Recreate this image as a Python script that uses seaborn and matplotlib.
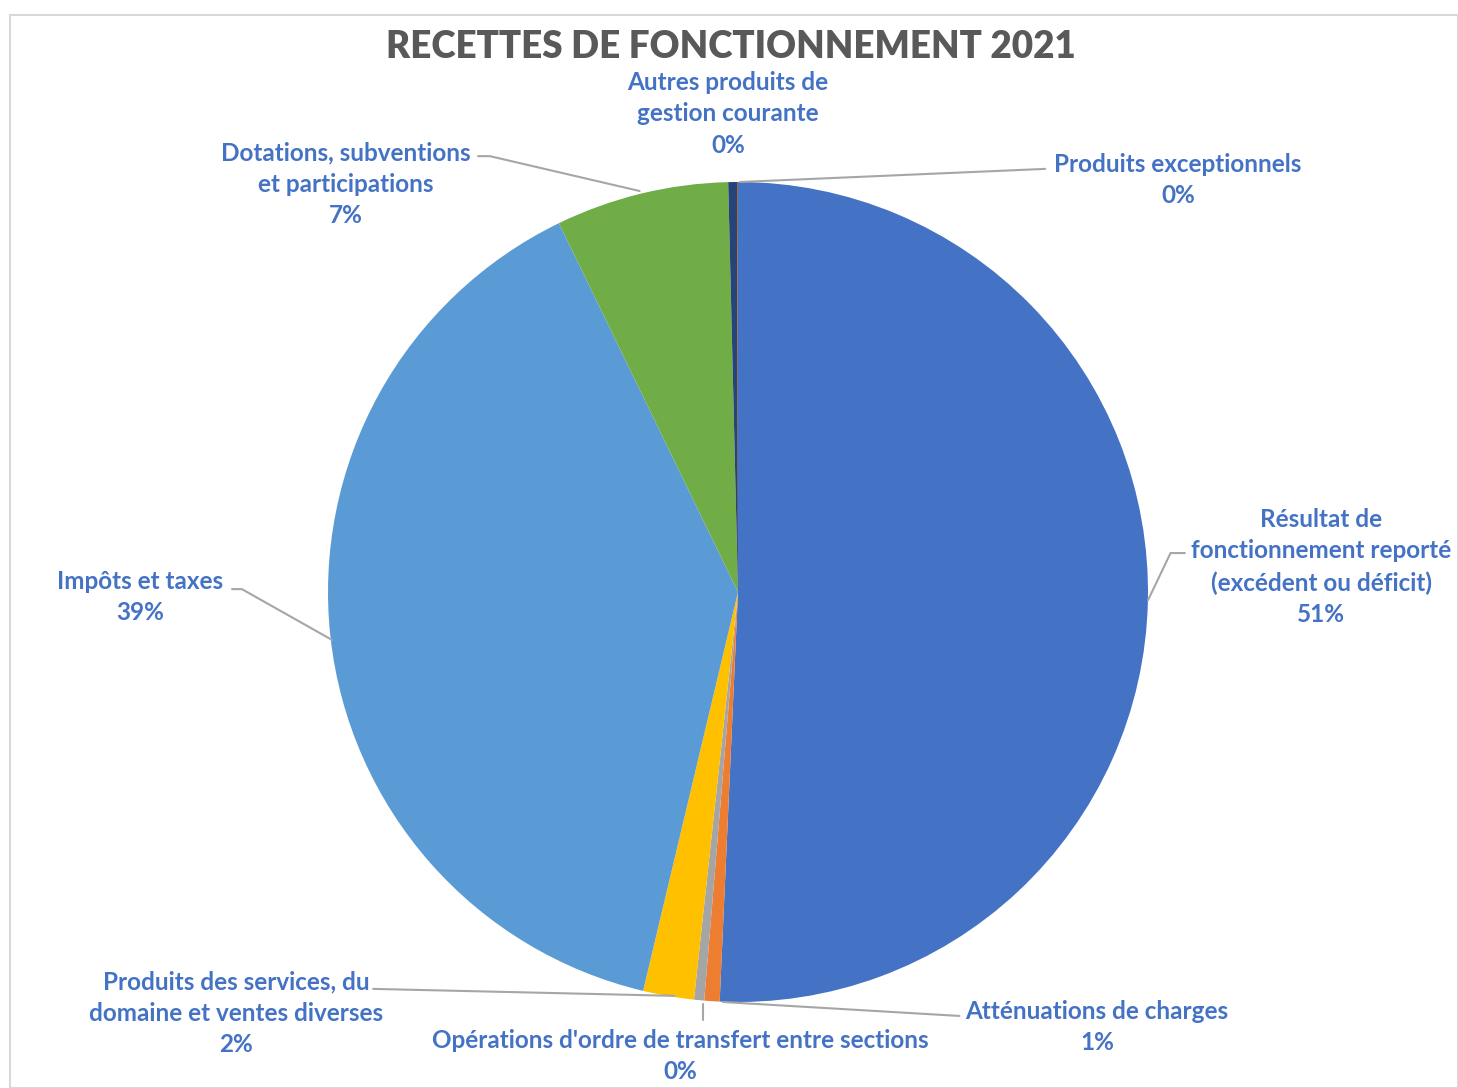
import matplotlib
matplotlib.use("Agg")
import matplotlib.pyplot as plt
import seaborn as sns
from matplotlib.patches import Rectangle

# data (percent of total)
categories = [
    "Résultat de\nfonctionnement reporté\n(excédent ou déficit)",
    "Atténuations de charges",
    "Opérations d'ordre de transfert entre sections",
    "Produits des services, du\ndomaine et ventes diverses",
    "Impôts et taxes",
    "Dotations, subventions\net participations",
    "Autres produits de\ngestion courante",
    "Produits exceptionnels",
]
shares = [50.6, 0.6, 0.4, 2.0, 39.0, 6.8, 0.35, 0.03]
pct_labels = ["51%", "1%", "0%", "2%", "39%", "7%", "0%", "0%"]
colors = ["#4472C4", "#ED7D31", "#A5A5A5", "#FFC000",
          "#5B9BD5", "#70AD47", "#264478", "#9E480E"]

# label centres and leader lines, in pie units (radius = 1)
label_pos = [(1.422, 0.061), (0.876, -1.061), (-0.141, -1.132), (-1.224, -1.027),
             (-1.459, -0.012), (-0.956, 0.995), (-0.024, 1.166), (1.073, 1.005)]
leaders = [
    [(1.090, 0.095), (1.055, 0.095), (1.000, -0.020)],
    [(0.540, -1.034), (-0.037, -1.000)],
    [(-0.085, -1.005), (-0.085, -1.045)],
    [(-0.890, -0.968), (-0.155, -0.985)],
    [(-1.234, 0.007), (-1.210, 0.007), (-0.990, -0.117)],
    [(-0.634, 1.063), (-0.605, 1.063), (-0.240, 0.978)],
    None,
    [(0.749, 1.032), (0.005, 1.000)],
]


def main():
    sns.set_theme(style="white")
    plt.rcParams["font.family"] = ["Lato", "DejaVu Sans"]

    W, H = 1458, 1088
    fig = plt.figure(figsize=(W / 100, H / 100), dpi=100)
    fig.patch.set_facecolor("white")

    # chart frame
    fig.add_artist(Rectangle((10 / W, 0), (W - 10) / W, 1 - 15 / H,
                             transform=fig.transFigure, fill=False,
                             edgecolor="#D9D9D9", linewidth=1.5))

    cx, cy, r = 738, 592, 410
    ax = fig.add_axes([(cx - r) / W, (H - cy - r) / H, 2 * r / W, 2 * r / H])
    ax.pie(shares, colors=colors, startangle=90, counterclock=False,
           radius=1, wedgeprops=dict(linewidth=0))
    ax.set_xlim(-1, 1)
    ax.set_ylim(-1, 1)
    ax.set_aspect("equal")
    ax.axis("off")

    text_color = "#4472C4"
    for cat, pct, pos, lead in zip(categories, pct_labels, label_pos, leaders):
        ax.text(pos[0], pos[1], cat + "\n" + pct, ha="center", va="center",
                fontsize=17.5, fontweight="bold", color=text_color,
                linespacing=1.45, clip_on=False)
        if lead:
            xs, ys = zip(*lead)
            ax.plot(xs, ys, color="#A6A6A6", linewidth=1.5, clip_on=False)

    fig.text(731 / W, 1 - 47 / H, "RECETTES DE FONCTIONNEMENT 2021",
             ha="center", va="center", fontsize=26.5, fontweight="heavy",
             color="#595959")

    fig.savefig("out.png", dpi=100)


if __name__ == "__main__":
    main()
